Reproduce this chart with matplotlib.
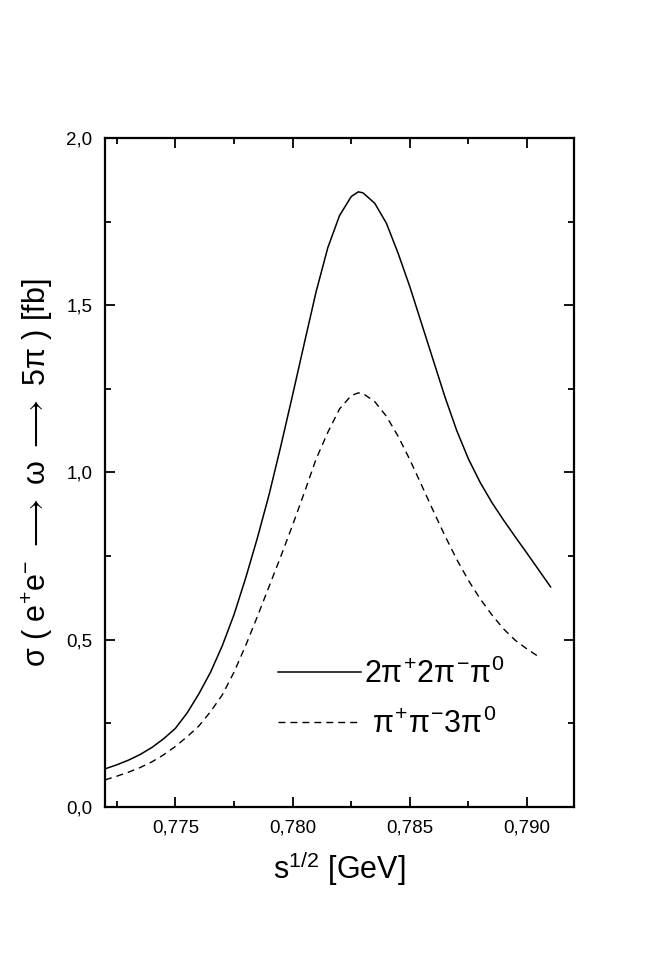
import numpy as np
import matplotlib
matplotlib.use('Agg')
import matplotlib.pyplot as plt
from matplotlib.ticker import MultipleLocator, FuncFormatter

plt.rcParams['font.family'] = ['Liberation Sans', 'DejaVu Sans']
plt.rcParams['mathtext.fontset'] = 'custom'
plt.rcParams['mathtext.rm'] = 'Liberation Sans'
plt.rcParams['mathtext.it'] = 'Liberation Sans'
plt.rcParams['mathtext.bf'] = 'Liberation Sans:bold'

# values
s_full = [0.7720, 0.7725, 0.7730, 0.7735, 0.7740, 0.7745, 0.7750, 0.7755,
          0.7760, 0.7765, 0.7770, 0.7775, 0.7780, 0.7785, 0.7790, 0.7795,
          0.7800, 0.7805, 0.7810, 0.7815, 0.7820, 0.7825, 0.7828, 0.7830,
          0.7835, 0.7840, 0.7845, 0.7850, 0.7855, 0.7860, 0.7865, 0.7870,
          0.7875, 0.7880, 0.7885, 0.7890, 0.7895, 0.7900, 0.7905, 0.7910]
sig_charged = [0.114, 0.126, 0.140, 0.157, 0.178, 0.204, 0.235, 0.281,
               0.338, 0.403, 0.482, 0.575, 0.685, 0.805, 0.935, 1.080,
               1.232, 1.387, 1.540, 1.672, 1.768, 1.825, 1.839, 1.836,
               1.805, 1.745, 1.655, 1.555, 1.445, 1.335, 1.225, 1.125,
               1.040, 0.970, 0.910, 0.857, 0.807, 0.758, 0.708, 0.658]

s_neut = s_full[:-1]
sig_neutral = [0.081, 0.092, 0.104, 0.118, 0.135, 0.156, 0.181, 0.210,
               0.242, 0.285, 0.335, 0.403, 0.483, 0.570, 0.660, 0.750,
               0.843, 0.940, 1.040, 1.120, 1.190, 1.230, 1.238, 1.236,
               1.212, 1.168, 1.108, 1.038, 0.962, 0.885, 0.810, 0.740,
               0.677, 0.622, 0.574, 0.532, 0.498, 0.472, 0.449]

label_charged = r'2$\pi^{+}$2$\pi^{-}\pi^{0}$'
label_neutral = r' $\pi^{+}\pi^{-}$3$\pi^{0}$'

fig = plt.figure(figsize=(6.72, 9.69), dpi=100)
ax = fig.add_axes([0.1563, 0.1672, 0.6979, 0.6904])

ax.plot(s_full, sig_charged, 'k-', lw=1.1, label=label_charged)
ax.plot(s_neut, sig_neutral, 'k', lw=1.0, dashes=(5, 3.6), label=label_neutral)

ax.set_xlim(0.772, 0.792)
ax.set_ylim(0, 2.0)
ax.xaxis.set_major_locator(MultipleLocator(0.005))
ax.xaxis.set_minor_locator(MultipleLocator(0.0025))
ax.yaxis.set_major_locator(MultipleLocator(0.5))
ax.yaxis.set_minor_locator(MultipleLocator(0.25))
ax.xaxis.set_major_formatter(FuncFormatter(lambda v, p: ('%.3f' % v).replace('.', ',')))
ax.yaxis.set_major_formatter(FuncFormatter(lambda v, p: ('%.1f' % v).replace('.', ',')))

for axis in ['top', 'bottom', 'left', 'right']:
    ax.spines[axis].set_linewidth(1.6)
ax.tick_params(which='both', direction='in', top=True, right=True, width=1.3, colors='k')
ax.tick_params(which='major', length=7, labelsize=13.5, pad=9)
ax.tick_params(which='minor', length=4)

ax.set_xlabel(r's$^{1/2}$ [GeV]', fontsize=22, labelpad=9)
ax.set_ylabel(r'$\sigma$ ( e$^{+}$e$^{-}$ $\longrightarrow$ $\omega$ $\longrightarrow$ 5$\pi$ ) [fb]',
              fontsize=22, labelpad=8)

ax.legend(loc='upper left', bbox_to_anchor=(0.369, 0.2215), frameon=False,
          fontsize=22, handlelength=2.7, handletextpad=0.1, labelspacing=0.61,
          borderpad=0, borderaxespad=0)

fig.savefig('out.png', dpi=100)
